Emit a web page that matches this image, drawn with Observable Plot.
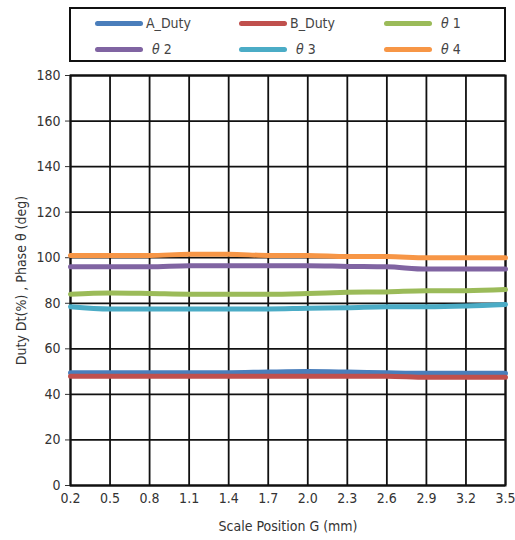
<!DOCTYPE html>
<html><head><meta charset="utf-8">
<script src="https://cdn.jsdelivr.net/npm/d3@7"></script>
<script src="https://cdn.jsdelivr.net/npm/@observablehq/plot@0.6"></script>
<style>
body{margin:0;background:#fff;font-family:"DejaVu Sans Condensed","Noto Sans CJK JP",sans-serif;}
#wrap{position:relative;width:515px;height:540px;}
#legend{position:absolute;left:69px;top:7px;width:433px;height:51px;border:2px solid #111;}
.item{position:absolute;display:flex;align-items:center;font-size:14px;color:#444;}
.item span.sw{display:inline-block;width:48px;height:5px;border-radius:3px;margin-right:3px;}
#chart{position:absolute;left:0;top:64px;}
</style></head><body>
<div id="wrap"><div id="legend"></div><div id="chart"></div></div>
<script>
const positions = [0.2,0.5,0.8,1.1,1.4,1.7,2.0,2.3,2.6,2.9,3.2,3.5];
const seriesNames = ["A_Duty","B_Duty","θ1","θ2","θ3","θ4"];
const seriesColors = ["#4a7ebb","#c0504d","#9bbb59","#8064a2","#4bacc6","#f79646"];
const aDuty = [49.5,49.5,49.5,49.5,49.5,49.8,50,49.8,49.5,49.3,49.3,49.3];
const bDuty = [48,48,48,48,48,48,48,48,48,47.5,47.5,47.5];
const theta1 = [84,84.5,84.3,84,84,84,84.3,84.8,85,85.5,85.5,86];
const theta2 = [96,96,96,96.5,96.5,96.5,96.5,96.2,96,95,95,95];
const theta3 = [78.5,77.5,77.5,77.5,77.5,77.5,77.8,78,78.5,78.5,78.8,79.5];
const theta4 = [101,101,101,101.5,101.5,101,101,100.5,100.5,100,100,100];
const yTicks = [0,20,40,60,80,100,120,140,160,180];
const xTickLabels = ["0.2","0.5","0.8","1.1","1.4","1.7","2.0","2.3","2.6","2.9","3.2","3.5"];

const allSeries = [aDuty,bDuty,theta1,theta2,theta3,theta4];
const data = [];
allSeries.forEach((vals,i)=>vals.forEach((v,j)=>data.push({x:positions[j],y:v,s:seriesNames[i]})));

// legend
const leg = document.getElementById("legend");
const cols = [24,168,313], rows = [6,32];
seriesNames.forEach((n,i)=>{
  const d=document.createElement("div");d.className="item";
  d.style.left=cols[i%3]+"px";d.style.top=rows[Math.floor(i/3)]+"px";
  d.innerHTML=`<span class="sw" style="background:${seriesColors[i]}"></span>`+(n.startsWith("θ")?`<span style="margin-left:6px"><i>θ</i> ${n.slice(1)}</span>`:n);
  leg.appendChild(d);
});

const chart = Plot.plot({
  width:515, height:476,
  marginLeft:70, marginRight:10, marginTop:11, marginBottom:55,
  style:{fontFamily:'"DejaVu Sans Condensed","Noto Sans CJK JP",sans-serif',fontSize:"14px",color:"#333"},
  x:{domain:[0.2,3.5]},
  y:{domain:[0,180]},
  color:{domain:seriesNames,range:seriesColors},
  marks:[
    Plot.gridX(positions,{stroke:"#111",strokeOpacity:1,strokeWidth:1.8}),
    Plot.gridY(yTicks,{stroke:"#111",strokeOpacity:1,strokeWidth:1.8}),
    Plot.axisX({ticks:positions,tickFormat:(d,i)=>xTickLabels[i],tickSize:0,tickPadding:8,label:"Scale Position G (mm)",labelAnchor:"center",labelArrow:"none",labelOffset:45}),
    Plot.axisY({ticks:yTicks,tickSize:5,tickPadding:5,label:"Duty Dt(%) , Phase θ (deg)",labelAnchor:"center",labelArrow:"none",labelOffset:54}),
    Plot.frame({stroke:"#111",strokeWidth:2}),
    Plot.line(data,{x:"x",y:"y",z:"s",stroke:"s",strokeWidth:5,curve:"monotone-x"})
  ]
});
document.getElementById("chart").appendChild(chart);
</script>
</body></html>
